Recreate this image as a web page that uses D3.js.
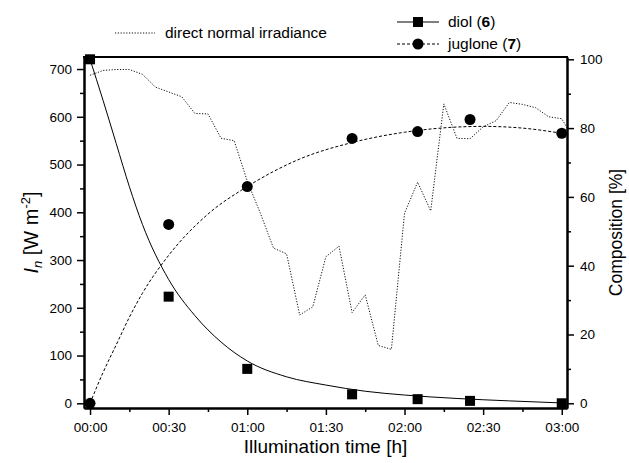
<!DOCTYPE html>
<html>
<head>
<meta charset="utf-8">
<script src="https://cdnjs.cloudflare.com/ajax/libs/d3/7.8.5/d3.min.js"></script>
<style>
body { margin: 0; background: #fff; }
svg text { font-family: "Liberation Sans", Arial, sans-serif; fill: #000; }
</style>
</head>
<body>
<script>
// measured composition, minutes after start of illumination
var sampleTimes = [0, 30, 60, 100, 125, 145, 180];
var diolValues = [100, 31, 10, 2.6, 1.2, 0.7, 0];
var jugloneValues = [0, 52, 63, 77, 79, 82.5, 78.5];

// fitted curves
var diolFitTimes = [0, 5, 10, 15, 20, 30, 40, 50, 60, 75, 90, 105, 120, 140, 160, 180];
var diolFitValues = [100, 88, 75.5, 63, 52, 36, 25.5, 17.8, 12.3, 7.7, 5.3, 3.5, 2.4, 1.4, 0.7, 0.1];
var jugFitTimes = [0, 5, 10, 15, 20, 30, 45, 60, 80, 100, 120, 150, 165, 180];
var jugFitValues = [0, 9, 17, 25, 32, 43, 55, 63, 71, 75.8, 78.8, 80.5, 80, 78.5];

// direct normal irradiance [W m-2], every 5 min
var irrTimes = [0, 5, 10, 15, 20, 25, 30, 35, 40, 45, 50, 55, 60, 65, 70, 75, 80, 85, 90,
  95, 100, 105, 110, 115, 120, 125, 130, 135, 140, 145, 150, 155, 160, 165, 170, 175, 180, 182];
var irrValues = [687, 697, 699, 699, 689, 662, 652, 642, 607, 606, 555, 550, 465, 398, 325, 313, 185, 202, 307,
  329, 190, 227, 121, 113, 398, 463, 403, 627, 555, 554, 579, 592, 630, 626, 619, 600, 596, 577];

var xTicks = [0, 30, 60, 90, 120, 150, 180];
var xTickLabels = ["00:00", "00:30", "01:00", "01:30", "02:00", "02:30", "03:00"];
var xMinor = [15, 45, 75, 105, 135, 165];
var leftTicks = [0, 100, 200, 300, 400, 500, 600, 700];
var leftMinor = [50, 150, 250, 350, 450, 550, 650];
var rightTicks = [0, 20, 40, 60, 80, 100];
var rightMinor = [10, 30, 50, 70, 90];

var W = 629, H = 463;
var L = 84, R = 567, T = 57, B = 408;

var svg = d3.select("body").append("svg")
    .attr("width", W)
    .attr("height", H);

var x = d3.scaleLinear().domain([-2.3, 182]).range([L, R]);
var yL = d3.scaleLinear().domain([-9.84, 725.2]).range([B, T]);
var yR = d3.scaleLinear().domain([-1.37, 100.67]).range([B, T]);

svg.append("clipPath").attr("id", "plot")
  .append("rect").attr("x", L).attr("y", T).attr("width", R - L).attr("height", B - T);

// irradiance
svg.append("path")
    .datum(irrTimes.map(function(t, i) { return [t, irrValues[i]]; }))
    .attr("clip-path", "url(#plot)")
    .attr("fill", "none")
    .attr("stroke", "#111")
    .attr("stroke-width", 1)
    .attr("stroke-dasharray", "1.2,1.6")
    .attr("d", d3.line().x(function(d) { return x(d[0]); }).y(function(d) { return yL(d[1]); }));

// fit lines
var fitLine = d3.line().curve(d3.curveMonotoneX)
    .x(function(d) { return x(d[0]); })
    .y(function(d) { return yR(d[1]); });

svg.append("path")
    .datum(diolFitTimes.map(function(t, i) { return [t, diolFitValues[i]]; }))
    .attr("fill", "none").attr("stroke", "#000").attr("stroke-width", 1)
    .attr("d", fitLine);

svg.append("path")
    .datum(jugFitTimes.map(function(t, i) { return [t, jugFitValues[i]]; }))
    .attr("fill", "none").attr("stroke", "#000").attr("stroke-width", 1)
    .attr("stroke-dasharray", "3,2")
    .attr("d", fitLine);

// axes
function styleAxis(g) {
  g.select(".domain").attr("stroke-width", 2);
  g.selectAll(".tick line").attr("stroke-width", 1.5);
  g.selectAll(".tick text").attr("font-size", "13.5px").attr("font-family", null);
}

svg.append("g").attr("transform", "translate(0," + B + ")")
    .call(d3.axisBottom(x).tickValues(xTicks)
      .tickFormat(function(d, i) { return xTickLabels[i]; })
      .tickSizeInner(7).tickSizeOuter(0).tickPadding(7))
    .call(styleAxis);
svg.append("g").attr("transform", "translate(0," + B + ")")
    .call(d3.axisBottom(x).tickValues(xMinor).tickFormat("").tickSizeInner(4).tickSizeOuter(0))
    .call(styleAxis);

svg.append("g").attr("transform", "translate(" + L + ",0)")
    .call(d3.axisLeft(yL).tickValues(leftTicks).tickSizeInner(7).tickSizeOuter(0).tickPadding(5))
    .call(styleAxis);
svg.append("g").attr("transform", "translate(" + L + ",0)")
    .call(d3.axisLeft(yL).tickValues(leftMinor).tickFormat("").tickSizeInner(4).tickSizeOuter(0))
    .call(styleAxis);

svg.append("g").attr("transform", "translate(" + R + ",0)")
    .call(d3.axisRight(yR).tickValues(rightTicks).tickSizeInner(7).tickSizeOuter(0).tickPadding(6))
    .call(styleAxis);
svg.append("g").attr("transform", "translate(" + R + ",0)")
    .call(d3.axisRight(yR).tickValues(rightMinor).tickFormat("").tickSizeInner(4).tickSizeOuter(0))
    .call(styleAxis);

svg.append("line")
    .attr("x1", L - 1).attr("x2", R + 1).attr("y1", T).attr("y2", T)
    .attr("stroke", "#000").attr("stroke-width", 2);

// markers
svg.selectAll(".diol").data(sampleTimes).enter().append("rect")
    .attr("class", "diol")
    .attr("x", function(d) { return x(d) - 5; })
    .attr("y", function(d, i) { return yR(diolValues[i]) - 5; })
    .attr("width", 10).attr("height", 10)
    .attr("fill", "#000");

svg.selectAll(".jug").data(sampleTimes).enter().append("circle")
    .attr("class", "jug")
    .attr("cx", function(d) { return x(d); })
    .attr("cy", function(d, i) { return yR(jugloneValues[i]); })
    .attr("r", 5.5)
    .attr("fill", "#000");

// titles
svg.append("text")
    .attr("x", (L + R) / 2).attr("y", 453)
    .attr("text-anchor", "middle")
    .attr("font-size", "19px")
    .text("Illumination time [h]");

svg.append("text")
    .attr("transform", "translate(622," + ((T + B) / 2) + ") rotate(-90)")
    .attr("text-anchor", "middle")
    .attr("font-size", "17.5px")
    .text("Composition [%]");

var yTitle = svg.append("text")
    .attr("transform", "translate(38," + ((T + B) / 2) + ") rotate(-90)")
    .attr("text-anchor", "middle")
    .attr("font-size", "20px");
yTitle.append("tspan").attr("font-style", "italic").text("I");
yTitle.append("tspan").attr("font-style", "italic").attr("font-size", "13px").attr("dy", 4).text("n");
yTitle.append("tspan").attr("dy", -4).text(" [W m");
yTitle.append("tspan").attr("font-size", "13px").attr("dy", -8).text("-2");
yTitle.append("tspan").attr("dy", 8).text("]");

// legend
svg.append("line")
    .attr("x1", 115).attr("x2", 155).attr("y1", 33).attr("y2", 33)
    .attr("stroke", "#111").attr("stroke-dasharray", "1.2,1.6");
svg.append("text").attr("x", 165).attr("y", 38).attr("font-size", "15.5px")
    .text("direct normal irradiance");

svg.append("line")
    .attr("x1", 397).attr("x2", 439).attr("y1", 22).attr("y2", 22)
    .attr("stroke", "#000");
svg.append("rect").attr("x", 413).attr("y", 17).attr("width", 10).attr("height", 10).attr("fill", "#000");
var t1 = svg.append("text").attr("x", 448).attr("y", 27).attr("font-size", "15.5px");
t1.append("tspan").text("diol (");
t1.append("tspan").attr("font-weight", "bold").text("6");
t1.append("tspan").text(")");

svg.append("line")
    .attr("x1", 397).attr("x2", 439).attr("y1", 44).attr("y2", 44)
    .attr("stroke", "#000").attr("stroke-dasharray", "3,2");
svg.append("circle").attr("cx", 418).attr("cy", 44).attr("r", 5.5).attr("fill", "#000");
var t2 = svg.append("text").attr("x", 448).attr("y", 49).attr("font-size", "15.5px");
t2.append("tspan").text("juglone (");
t2.append("tspan").attr("font-weight", "bold").text("7");
t2.append("tspan").text(")");
</script>
</body>
</html>
